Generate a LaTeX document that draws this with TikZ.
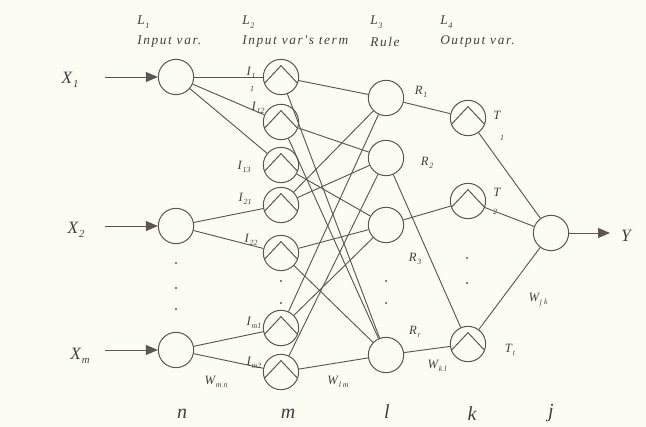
\documentclass[tikz,border=0pt]{standalone}
\usepackage{fontspec}
\setmainfont{Liberation Serif}
\newfontfamily\spaced[LetterSpace=12]{Liberation Serif}
\usetikzlibrary{arrows.meta}
\definecolor{paper}{RGB}{252,251,244}
\definecolor{ink}{RGB}{92,86,82}
\definecolor{txt}{RGB}{68,64,62}
\newcommand\lsub[2]{#1\kern0.6pt\raisebox{-0.55ex}{\scalebox{0.62}{#2}}}

\tikzset{
  unit/.style={draw=ink, circle, minimum size=26.5pt, inner sep=0pt, line width=0.75pt},
  term/.style={unit, path picture={
      \draw[ink, line width=0.75pt]
        ([shift={(-12.2pt,-4.5pt)}]path picture bounding box.center) --
        ([shift={(0pt,8.5pt)}]path picture bounding box.center) --
        ([shift={(12.2pt,-4.5pt)}]path picture bounding box.center);}},
  link/.style={draw=ink, line width=0.7pt},
  feed/.style={link, -{Triangle[length=9pt,width=7.5pt]}},
  lbl/.style={text=txt, font=\itshape\fontsize{9.5}{10}\selectfont, inner sep=0pt},
  head/.style={lbl, anchor=west, font=\spaced\itshape\fontsize{10}{11}\selectfont},
  var/.style={lbl, font=\itshape\fontsize{13}{14}\selectfont},
  layer/.style={lbl, font=\itshape\fontsize{15}{17}\selectfont},
  dot/.style={circle, fill=ink, inner sep=0pt, minimum size=1.6pt},
}

\begin{document}
\begin{tikzpicture}[x=0.75pt, y=-0.75pt]
\fill[paper] (0,0) rectangle (646,427);
\useasboundingbox (0,0) rectangle (646,427);

% layer headings
\node[head] (l1) at (137,22) {\lsub{L}{1}};
\node[head] (l1t) at (137,42) {Input var.};
\node[head] (l2) at (242,22) {\lsub{L}{2}};
\node[head] (l2t) at (242,42) {Input var's term};
\node[head] (l3) at (370,22) {\lsub{L}{3}};
\node[head] (l3t) at (370,42) {Rule};
\node[head] (l4) at (440,22) {\lsub{L}{4}};
\node[head] (l4t) at (440,42) {Output var.};

% layer 1
\node[unit] (x1) at (176,77) {};
\node[unit] (x2) at (176,226) {};
\node[unit] (xm) at (176,350) {};

% layer 2
\node[term] (i11) at (281,77) {};
\node[term] (i12) at (281,122) {};
\node[term] (i13) at (281,165) {};
\node[term] (i21) at (281,205) {};
\node[term] (i22) at (281,253) {};
\node[term] (im1) at (281,328) {};
\node[term] (im2) at (281,372) {};

% layer 3
\node[unit] (r1) at (386,98) {};
\node[unit] (r2) at (386,158) {};
\node[unit] (r3) at (386,225) {};
\node[unit] (rr) at (386,355) {};

% layer 4
\node[term] (t1) at (468,118) {};
\node[term] (t2) at (468,201) {};
\node[term] (tt) at (468,344) {};

% output
\node[unit] (out) at (551,233) {};

% inputs and output
\node[var] (lx1) at (70,80) {\lsub{X}{1}};
\node[var] (lx2) at (76,230) {\lsub{X}{2}};
\node[var] (lxm) at (80,356) {\lsub{X}{m}};
\coordinate (in1) at (105,77);
\coordinate (in2) at (105,226);
\coordinate (inm) at (105,350);
\draw[feed] (in1) -- (x1);
\draw[feed] (in2) -- (x2);
\draw[feed] (inm) -- (xm);
\coordinate (yend) at (610,233);
\draw[feed] (out) -- (yend);
\node[var] (ly) at (626,236) {Y};

% connections
\foreach \a/\b in {x1/i11, x1/i12, x1/i13, x2/i21, x2/i22, xm/im1, xm/im2,
    i11/r1, i11/rr, i12/r2, i12/rr, i13/r3, i21/r1, i21/r2, i22/r3, i22/rr,
    im1/r1, im1/r3, im2/r2, im2/rr,
    r1/t1, r2/tt, r3/t2, rr/tt, t1/out, t2/out, tt/out}
  \draw[link] (\a) -- (\b);

% node labels
\node[lbl] (li11) at (251,73) {\lsub{I}{1}};
\node[lbl, font=\itshape\fontsize{6}{7}\selectfont] (li11b) at (252,89) {1};
\node[lbl] (li12) at (258,108) {\lsub{I}{12}};
\node[lbl] (li13) at (244,167) {\lsub{I}{13}};
\node[lbl] (li21) at (245,199) {\lsub{I}{21}};
\node[lbl] (li22) at (251,240) {\lsub{I}{22}};
\node[lbl] (lim1) at (254,323) {\lsub{I}{m1}};
\node[lbl] (lim2) at (254,363) {\lsub{I}{m2}};
\node[lbl] (lr1) at (421,92) {\lsub{R}{1}};
\node[lbl] (lr2) at (427,163) {\lsub{R}{2}};
\node[lbl] (lr3) at (415,259) {\lsub{R}{3}};
\node[lbl] (lrr) at (415,332) {\lsub{R}{r}};
\node[lbl] (lt1) at (497,115) {T};
\node[lbl, font=\itshape\fontsize{6}{7}\selectfont] (lt1b) at (502,138) {1};
\node[lbl] (lt2) at (497,192) {T};
\node[lbl, font=\itshape\fontsize{6}{7}\selectfont] (lt2b) at (495,212) {2};
\node[lbl] (ltt) at (510,350) {\lsub{T}{t}};
\node[lbl] (wmn) at (216,382) {\lsub{W}{m n}};
\node[lbl] (wlm) at (338,382) {\lsub{W}{l m}};
\node[lbl] (wkl) at (437,366) {\lsub{W}{k l}};
\node[lbl] (wjk) at (538,300) {\lsub{W}{j k}};

% ellipsis dots
\foreach \y in {263,288,309} \node[dot] at (176,\y) {};
\foreach \y in {281,303} \node[dot] at (281,\y) {};
\foreach \y in {281,303} \node[dot] at (386,\y) {};
\foreach \y in {258,283} \node[dot] at (467,\y) {};

% layer indices
\node[layer] (ln) at (182,414) {n};
\node[layer] (lm) at (288,414) {m};
\node[layer] (ll) at (387,412) {l};
\node[layer] (lk) at (472,414) {k};
\node[layer] (lj) at (551,413) {j};
\end{tikzpicture}
\end{document}
